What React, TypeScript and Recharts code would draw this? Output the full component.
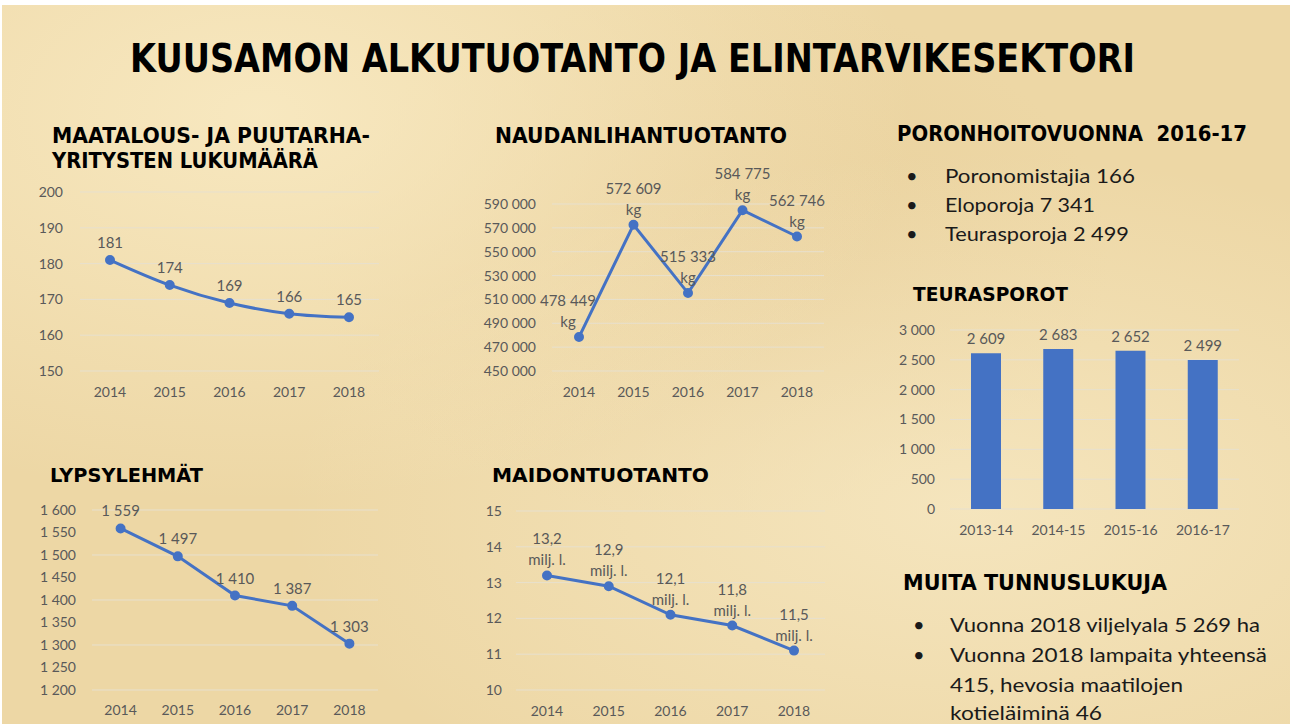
import React from 'react'
import { LineChart, Line, BarChart, Bar, XAxis, YAxis, CartesianGrid, LabelList } from 'recharts'

// data
const years = ['2014', '2015', '2016', '2017', '2018']

const farmCounts = [181, 174, 169, 166, 165]
const farmTicks = [150, 160, 170, 180, 190, 200]

const beefKg = [478449, 572609, 515333, 584775, 562746]
const beefTicks = [450000, 470000, 490000, 510000, 530000, 550000, 570000, 590000]

const dairyCows = [1559, 1497, 1410, 1387, 1303]
const cowTicks = [1200, 1250, 1300, 1350, 1400, 1450, 1500, 1550, 1600]

const milkMl = [13.2, 12.9, 12.1, 11.8, 11.1]
const milkLabels = ['13,2', '12,9', '12,1', '11,8', '11,5']
const milkTicks = [10, 11, 12, 13, 14, 15]

const seasons = ['2013-14', '2014-15', '2015-16', '2016-17']
const slaughtered = [2609, 2683, 2652, 2499]
const reindeerTicks = [0, 500, 1000, 1500, 2000, 2500, 3000]

const reindeerFacts = ['Poronomistajia 166', 'Eloporoja 7 341', 'Teurasporoja 2 499']
const otherFacts = ['Vuonna 2018 viljelyala 5 269 ha', 'Vuonna 2018 lampaita yhteensä', '415, hevosia maatilojen', 'kotieläiminä 46']

const BLUE = '#4472C4'
const GRID = '#E7E0CE'
const BODY_FONT = 'Lato, "Open Sans", sans-serif'
const HEAD_FONT = '"Comic Sans MS", "DejaVu Sans", sans-serif'
const TICK = { fill: '#595959', fontSize: 14, fontFamily: BODY_FONT }

const spaced = (v: number) => String(v).replace(/\B(?=(\d{3})+(?!\d))/g, ' ')

const farmData = years.map((year, i) => ({ year, value: farmCounts[i] }))
const beefData = years.map((year, i) => ({ year, value: beefKg[i] }))
const cowData = years.map((year, i) => ({ year, value: dairyCows[i] }))
const milkData = years.map((year, i) => ({ year, value: milkMl[i], label: milkLabels[i] }))
const barData = seasons.map((season, i) => ({ season, value: slaughtered[i] }))

const labelStyle = { textAnchor: 'middle' as const, dominantBaseline: 'central' as const, fill: '#595959', fontSize: 15, fontFamily: BODY_FONT }

// label above a point, one or two lines
function labelAbove(unit: string | null, lift: number, firstShift = 0) {
  return (props: any) => {
    const x = props.x ?? props.viewBox?.x
    const y = props.y ?? props.viewBox?.y
    if (x == null || y == null) return null
    const dx = props.index === 0 ? firstShift : 0
    const text = typeof props.value === 'number' ? spaced(props.value) : String(props.value)
    if (!unit) {
      return <text x={x + dx} y={y - lift} {...labelStyle}>{text}</text>
    }
    return (
      <g>
        <text x={x + dx} y={y - lift} {...labelStyle}>{text}</text>
        <text x={x + dx} y={y - lift + 21} {...labelStyle}>{unit}</text>
      </g>
    )
  }
}

// value over a bar, kept on one line
function BarTop(props: any) {
  const { x, y, width, value } = props
  if (x == null || y == null) return null
  return <text x={x + width / 2} y={y - 15} {...labelStyle}>{spaced(value)}</text>
}

function Heading({ x, y, w, size, sy = 1, children }: { x: number; y: number; w: number; size: number; sy?: number; children: string }) {
  return (
    <g transform={`translate(${x},${y}) scale(1,${sy})`}>
      <text x={0} y={0} textLength={w} lengthAdjust="spacingAndGlyphs" fontFamily={HEAD_FONT} fontWeight="bold" fontSize={size} fill="#000" style={{ whiteSpace: 'pre' }}>
        {children}
      </text>
    </g>
  )
}

function Bullets({ x, tx, baselines, widths, items }: { x: number; tx: number; baselines: number[]; widths: number[]; items: string[] }) {
  return (
    <g fontFamily={BODY_FONT} fontSize={20} fill="#1a1a1a">
      {items.map((t, i) => (
        <g key={i}>
          {(i < 2 || items.length === 3) && <text x={x} y={baselines[i]}>•</text>}
          <text x={tx} y={baselines[i]} textLength={widths[i]} lengthAdjust="spacingAndGlyphs">{t}</text>
        </g>
      ))}
    </g>
  )
}

const box = (left: number, top: number): React.CSSProperties => ({ position: 'absolute', left, top })

export default function App() {
  return (
    <div style={{ position: 'absolute', left: 0, top: 0, width: 1290, height: 724, background: '#fff', overflow: 'hidden' }}>
      <div
        style={{
          position: 'absolute', left: 2, top: 5, width: 1288, height: 719,
          background:
            'radial-gradient(ellipse at 20% 15%, rgba(250,236,198,0.8), transparent 45%),' +
            'radial-gradient(ellipse at 75% 70%, rgba(250,238,205,0.6), transparent 50%),' +
            'radial-gradient(ellipse at 55% 35%, rgba(226,196,140,0.35), transparent 40%),' +
            '#EDD7A5',
        }}
      />

      <svg width={1290} height={724} style={{ position: 'absolute', left: 0, top: 0 }}>
        <Heading x={130} y={72} w={1005} size={32} sy={1.24}>KUUSAMON ALKUTUOTANTO JA ELINTARVIKESEKTORI</Heading>
        <Heading x={52} y={143} w={318} size={21}>MAATALOUS- JA PUUTARHA-</Heading>
        <Heading x={52} y={168} w={266} size={21}>YRITYSTEN LUKUMÄÄRÄ</Heading>
        <Heading x={495} y={143} w={292} size={21}>NAUDANLIHANTUOTANTO</Heading>
        <Heading x={897} y={141} w={350} size={21}>{'PORONHOITOVUONNA  2016-17'}</Heading>
        <Heading x={913} y={301} w={155} size={19}>TEURASPOROT</Heading>
        <Heading x={50} y={482} w={153} size={19}>LYPSYLEHMÄT</Heading>
        <Heading x={492} y={482} w={217} size={19}>MAIDONTUOTANTO</Heading>
        <Heading x={903} y={590} w={264} size={22}>MUITA TUNNUSLUKUJA</Heading>
        <Bullets x={906} tx={945} baselines={[183, 212, 241]} widths={[190, 150, 184]} items={reindeerFacts} />
        <Bullets x={913} tx={950} baselines={[632, 662, 692, 720]} widths={[310, 317, 233, 152]} items={otherFacts} />
      </svg>

      {/* farms */}
      <div style={box(0, 170)}>
        <LineChart width={400} height={231} data={farmData} margin={{ top: 22, right: 21, bottom: 0, left: 0 }}>
          <CartesianGrid vertical={false} stroke={GRID} />
          <XAxis dataKey="year" axisLine={false} tickLine={false} tick={TICK} tickMargin={10} height={30} padding={{ left: 30, right: 30 }} />
          <YAxis domain={[150, 200]} ticks={farmTicks} axisLine={false} tickLine={false} tick={TICK} tickMargin={11} width={80} />
          <Line type="monotone" dataKey="value" stroke={BLUE} strokeWidth={3} dot={{ r: 3.5, fill: BLUE, stroke: BLUE }} isAnimationActive={false}>
            <LabelList dataKey="value" content={labelAbove(null, 18)} />
          </Line>
        </LineChart>
      </div>

      {/* beef */}
      <div style={box(440, 140)}>
        <LineChart width={400} height={261} data={beefData} margin={{ top: 64, right: 16, bottom: 0, left: 0 }}>
          <CartesianGrid vertical={false} stroke={GRID} />
          <XAxis dataKey="year" axisLine={false} tickLine={false} tick={TICK} tickMargin={10} height={30} padding={{ left: 27, right: 27 }} />
          <YAxis domain={[450000, 590000]} ticks={beefTicks} tickFormatter={spaced} axisLine={false} tickLine={false} tick={TICK} tickMargin={10} width={112} />
          <Line type="linear" dataKey="value" stroke={BLUE} strokeWidth={3} dot={{ r: 3.5, fill: BLUE, stroke: BLUE }} isAnimationActive={false}>
            <LabelList dataKey="value" content={labelAbove('kg', 37, -11)} />
          </Line>
        </LineChart>
      </div>

      {/* dairy cows */}
      <div style={box(0, 490)}>
        <LineChart width={400} height={230} data={cowData} margin={{ top: 20, right: 22, bottom: 0, left: 0 }}>
          <CartesianGrid vertical={false} stroke={GRID} />
          <XAxis dataKey="year" axisLine={false} tickLine={false} tick={TICK} tickMargin={9} height={30} padding={{ left: 28.6, right: 28.6 }} />
          <YAxis domain={[1200, 1600]} ticks={cowTicks} tickFormatter={spaced} axisLine={false} tickLine={false} tick={TICK} tickMargin={10} width={92} />
          <Line type="linear" dataKey="value" stroke={BLUE} strokeWidth={3} dot={{ r: 3.5, fill: BLUE, stroke: BLUE }} isAnimationActive={false}>
            <LabelList dataKey="value" content={labelAbove(null, 18)} />
          </Line>
        </LineChart>
      </div>

      {/* milk */}
      <div style={box(440, 490)}>
        <LineChart width={400} height={230} data={milkData} margin={{ top: 21, right: 15, bottom: 0, left: 0 }}>
          <CartesianGrid vertical={false} stroke={GRID} />
          <XAxis dataKey="year" axisLine={false} tickLine={false} tick={TICK} tickMargin={10} height={30} padding={{ left: 31, right: 31 }} />
          <YAxis domain={[10, 15]} ticks={milkTicks} axisLine={false} tickLine={false} tick={TICK} tickMargin={8} width={76} />
          <Line type="linear" dataKey="value" stroke={BLUE} strokeWidth={3} dot={{ r: 3.5, fill: BLUE, stroke: BLUE }} isAnimationActive={false}>
            <LabelList dataKey="label" content={labelAbove('milj. l.', 37)} />
          </Line>
        </LineChart>
      </div>

      {/* slaughtered reindeer */}
      <div style={box(880, 310)}>
        <BarChart width={380} height={229} data={barData} margin={{ top: 20, right: 21, bottom: 0, left: 0 }}>
          <CartesianGrid vertical={false} stroke={GRID} />
          <XAxis dataKey="season" axisLine={false} tickLine={false} tick={TICK} tickMargin={10} height={30} />
          <YAxis domain={[0, 3000]} ticks={reindeerTicks} tickFormatter={spaced} axisLine={false} tickLine={false} tick={TICK} tickMargin={9} width={70} />
          <Bar dataKey="value" fill={BLUE} barSize={30} isAnimationActive={false}>
            <LabelList dataKey="value" content={BarTop} />
          </Bar>
        </BarChart>
      </div>
    </div>
  )
}
